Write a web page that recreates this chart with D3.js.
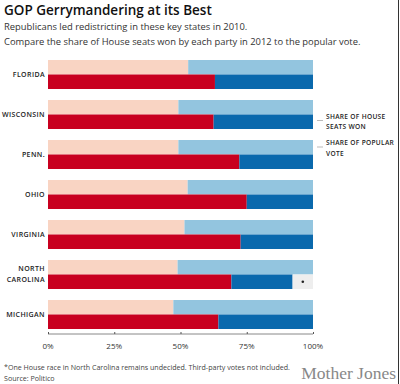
<!DOCTYPE html>
<html>
<head>
<meta charset="utf-8">
<script src="https://cdn.jsdelivr.net/npm/d3@7"></script>
<style>
  body { margin: 0; background: #fff; }
  svg { display: block; font-family: "Open Sans", sans-serif; }
</style>
</head>
<body>
<div id="chart"></div>
<script>
// Data (Republican share, 0..1)
var states = ['FLORIDA', 'WISCONSIN', 'PENN.', 'OHIO', 'VIRGINIA', 'NORTH CAROLINA', 'MICHIGAN'];
var repVote = [0.529, 0.492, 0.492, 0.527, 0.515, 0.489, 0.473];
var repSeats = [0.630, 0.625, 0.722, 0.750, 0.727, 0.692, 0.643];
var demSeats = [0.370, 0.375, 0.278, 0.250, 0.273, 0.231, 0.357];
var ticks = [0, 0.25, 0.5, 0.75, 1];

var width = 400, height = 384;
var svg = d3.select('#chart').append('svg')
    .attr('width', width)
    .attr('height', height);

var x = d3.scaleLinear().domain([0, 1]).range([48, 313]);
var y = d3.scaleBand().domain(states).range([60, 340]).paddingInner(0);
var barH = 14.5;

// titles
svg.append('text').attr('x', 4).attr('y', 15)
    .style('font-size', '13.5px').style('font-weight', 600).attr('fill', '#111')
    .text('GOP Gerrymandering at its Best');
svg.append('text').attr('x', 4).attr('y', 29.5)
    .style('font-size', '9.4px').attr('fill', '#333')
    .text('Republicans led redistricting in these key states in 2010.');
svg.append('text').attr('x', 4).attr('y', 45)
    .style('font-size', '9.4px').attr('fill', '#333')
    .text('Compare the share of House seats won by each party in 2012 to the popular vote.');

var rows = svg.selectAll('g.row')
    .data(states)
    .enter().append('g')
    .attr('class', 'row')
    .attr('transform', function(d) { return 'translate(0,' + y(d) + ')'; });

// popular vote
rows.append('rect')
    .attr('x', x(0)).attr('y', 0)
    .attr('width', function(d, i) { return x(repVote[i]) - x(0); })
    .attr('height', barH).attr('fill', '#f9d4c3');
rows.append('rect')
    .attr('x', function(d, i) { return x(repVote[i]); }).attr('y', 0)
    .attr('width', function(d, i) { return x(1) - x(repVote[i]); })
    .attr('height', barH).attr('fill', '#93c5df');

// house seats
rows.append('rect')
    .attr('x', x(0)).attr('y', barH)
    .attr('width', function(d, i) { return x(repSeats[i]) - x(0); })
    .attr('height', barH).attr('fill', '#c8001f');
rows.append('rect')
    .attr('x', function(d, i) { return x(repSeats[i]); }).attr('y', barH)
    .attr('width', function(d, i) { return x(repSeats[i] + demSeats[i]) - x(repSeats[i]); })
    .attr('height', barH).attr('fill', '#0a69ad');
rows.filter(function(d, i) { return repSeats[i] + demSeats[i] < 0.999; })
    .each(function(d) {
        var k = states.indexOf(d);
        var g = d3.select(this);
        var x0 = x(repSeats[k] + demSeats[k]);
        g.append('rect').attr('x', x0).attr('y', barH)
            .attr('width', x(1) - x0).attr('height', barH).attr('fill', '#eeeeee');
        g.append('circle').attr('cx', (x0 + x(1)) / 2).attr('cy', barH * 1.5)
            .attr('r', 1.3).attr('fill', '#222');
    });

// state labels
rows.append('text')
    .attr('x', 45)
    .attr('text-anchor', 'end')
    .style('font-size', '7px').style('font-weight', 600)
    .style('letter-spacing', '0.4px').attr('fill', '#222')
    .each(function(d) {
        var parts = d === 'NORTH CAROLINA' ? ['NORTH', 'CAROLINA'] : [d];
        var t = d3.select(this);
        parts.forEach(function(p, j) {
            t.append('tspan').attr('x', 45)
                .attr('y', parts.length === 1 ? barH + 2.5 : barH - 3.5 + j * 11)
                .text(p);
        });
    });

// legend
var legend = [['SHARE OF HOUSE', 'SEATS WON'], ['SHARE OF POPULAR', 'VOTE']];
legend.forEach(function(lines, i) {
    var ly = 120.5 + i * 26.5;
    svg.append('line').attr('x1', 317).attr('x2', 323).attr('y1', ly).attr('y2', ly)
        .attr('stroke', '#bbb').attr('stroke-width', 1);
    lines.forEach(function(l, j) {
        svg.append('text').attr('x', 326).attr('y', ly - 2 + j * 10.5)
            .style('font-size', '6.6px').style('font-weight', 600)
            .style('letter-spacing', '0.3px').attr('fill', '#222')
            .text(l);
    });
});

// axis
var axis = svg.append('g')
    .attr('transform', 'translate(0,334)')
    .call(d3.axisTop(x).tickValues(ticks).tickSize(2).tickFormat(''));
axis.select('.domain').attr('stroke', '#888').attr('d', 'M' + x(0) + ',0H' + x(1));
axis.selectAll('.tick line').attr('stroke', '#555');
svg.selectAll('text.tick-label')
    .data(ticks).enter().append('text')
    .attr('class', 'tick-label')
    .attr('x', function(d) { return x(d); })
    .attr('y', 349)
    .attr('text-anchor', 'middle')
    .style('font-size', '8px').attr('fill', '#333')
    .text(d3.format('.0%'));

// footnotes
svg.append('text').attr('x', 4).attr('y', 370)
    .style('font-size', '7.1px').attr('fill', '#444')
    .text('*One House race in North Carolina remains undecided. Third-party votes not included.');
svg.append('text').attr('x', 4).attr('y', 380.5)
    .style('font-size', '7.1px').attr('fill', '#444')
    .text('Source: Politico');
svg.append('text').attr('x', 396).attr('y', 379)
    .attr('text-anchor', 'end')
    .style('font-family', '"Liberation Serif", serif')
    .style('font-size', '17.5px').attr('fill', '#888')
    .text('Mother Jones');

// right frame line
svg.append('line').attr('x1', 398.5).attr('x2', 398.5).attr('y1', 0).attr('y2', height)
    .attr('stroke', '#333').attr('stroke-width', 1);
</script>
</body>
</html>
